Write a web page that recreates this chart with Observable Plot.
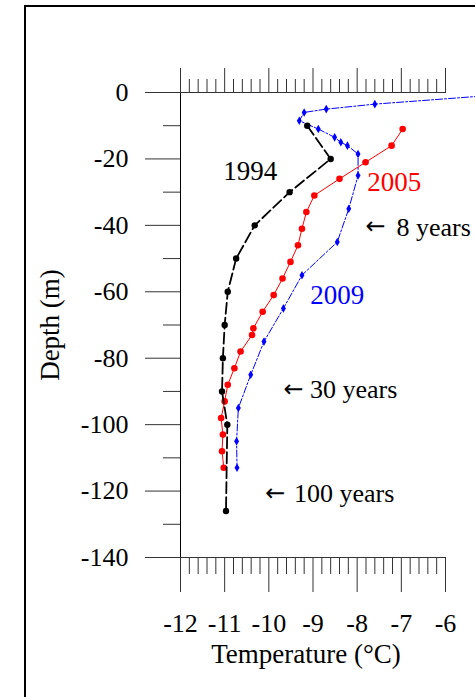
<!DOCTYPE html>
<html><head><meta charset="utf-8">
<script src="https://cdn.jsdelivr.net/npm/d3@7"></script>
<script src="https://cdn.jsdelivr.net/npm/@observablehq/plot@0.6"></script>
<style>
body{margin:0;background:#fff;}
#wrap{position:relative;width:475px;height:697px;overflow:hidden;background:#fff;}
#wrap svg{display:block;position:absolute;left:0;top:0;font-family:'Liberation Serif',serif;}
#wrap svg text{font-family:'Liberation Serif',serif;font-variant:normal;}
#wrap svg g.arrowglyph text{font-family:'DejaVu Sans',sans-serif;}
#border{position:absolute;left:24px;top:5px;width:600px;height:800px;border-left:2px solid #000;border-top:2px solid #000;z-index:2;pointer-events:none;}
</style></head><body><div id="wrap"></div>
<script>
// ---- data ----
const depth1994 = [-10,-20,-30,-40,-50,-60,-70,-80,-90,-100,-126];
const temp1994  = [-9.13,-8.6,-9.53,-10.32,-10.74,-10.93,-11.0,-11.04,-11.06,-10.94,-10.97];
const depth2005 = [-11,-16,-21,-26,-31,-36,-41,-46,-51,-56,-61,-66,-71,-73,-78,-83,-88,-93,-98,-103,-108,-113];
const temp2005  = [-6.97,-7.22,-7.81,-8.4,-8.97,-9.15,-9.25,-9.34,-9.51,-9.69,-9.89,-10.14,-10.35,-10.38,-10.64,-10.78,-10.93,-11.0,-11.08,-11.04,-11.06,-11.02];
const depth2009 = [-0.5,-3.5,-5,-6,-8.5,-11,-13.5,-15,-16,-18.5,-25,-35,-45,-55,-65,-75,-85,-95,-105,-113];
const temp2009  = [-4.6,-7.6,-8.7,-9.2,-9.31,-8.88,-8.51,-8.37,-8.22,-7.98,-7.98,-8.19,-8.45,-9.25,-9.67,-10.11,-10.41,-10.69,-10.73,-10.72];

const xTicks = [-12,-11,-10,-9,-8,-7,-6];
const yTicks = [0,-20,-40,-60,-80,-100,-120,-140];
const yMinorTicks = [-10,-30,-50,-70,-90,-110,-130];

const seriesNames = ["1994","2005","2009"];
const nameTemp   = [-11.03,-7.77,-9.06];
const nameDepth  = [-23.7,-27.0,-61.0];
const annotText  = ["8 years","30 years","100 years"];
const annotTemp  = [-7.11,-9.07,-9.43];
const annotDepth = [-40.6,-89.6,-120.9];
const arrowTemp  = [-7.81,-9.67,-10.08];

// ---- build tables ----
const zip = (t, d) => t.map((v, i) => ({t: v, d: d[i]}));
const s1994 = zip(temp1994, depth1994);
const s2005 = zip(temp2005, depth2005);
const s2009 = zip(temp2009, depth2009);
const names = seriesNames.map((n, i) => ({text: n, t: nameTemp[i], d: nameDepth[i]}));
const annots = annotText.map((n, i) => ({text: n, t: annotTemp[i], d: annotDepth[i]}));
const arrows = arrowTemp.map((v, i) => ({text: "←", t: v, d: annotDepth[i]}));
const xMinor = d3.range(0, 31).map(i => -12 + i * 0.2).filter((v, i) => i % 5 !== 0);

const serif = "Liberation Serif";
const tickCol = "#333";
const fmt = d => String(d);

const chart = Plot.plot({
  width: 475, height: 697,
  marginLeft: 180, marginRight: 30, marginTop: 92, marginBottom: 140,
  x: {domain: [-12, -6]},
  y: {domain: [-140, 0]},
  style: {fontSize: "26px", background: "transparent", color: "#000"},
  marks: [
    Plot.axisX({anchor: "top", ticks: xMinor, tickSize: 14, tickFormat: () => "", label: null, stroke: tickCol}),
    Plot.axisX({anchor: "top", ticks: xTicks, tickSize: 25, tickFormat: () => "", label: null, stroke: tickCol}),
    Plot.axisX({anchor: "bottom", ticks: xMinor, tickSize: 17, tickFormat: () => "", label: null, stroke: tickCol}),
    Plot.axisX({anchor: "bottom", ticks: xTicks, tickSize: 35, tickPadding: 21, tickFormat: fmt, label: null, stroke: tickCol, fill: "#000", fontSize: 26, fontFamily: serif, fontVariant: "normal"}),
    Plot.axisY({anchor: "left", ticks: yMinorTicks, tickSize: 17, tickFormat: () => "", label: null, stroke: tickCol}),
    Plot.axisY({anchor: "left", ticks: yTicks, tickSize: 35, tickPadding: 17, tickFormat: fmt, label: null, stroke: tickCol, fill: "#000", fontSize: 26, fontFamily: serif, fontVariant: "normal"}),
    Plot.ruleX([-12], {stroke: "#000", strokeWidth: 1}),
    Plot.ruleY([0, -140], {stroke: tickCol, strokeWidth: 1}),

    Plot.line(s2009, {x: "t", y: "d", stroke: "#0000ff", strokeWidth: 1, strokeDasharray: "7,2,2,2"}),
    Plot.dot(s2009, {x: "t", y: "d", fill: "#0000ff", symbol: "diamond", r: 2.6}),
    Plot.line(s2005, {x: "t", y: "d", stroke: "#ff0000", strokeWidth: 1}),
    Plot.dot(s2005, {x: "t", y: "d", fill: "#ff0000", r: 3.3}),
    Plot.line(s1994, {x: "t", y: "d", stroke: "#000", strokeWidth: 1.8, strokeDasharray: "11,4"}),
    Plot.dot(s1994, {x: "t", y: "d", fill: "#000", r: 3.2}),

    Plot.text(names.filter(d => d.text === "1994"), {x: "t", y: "d", text: "text", fill: "#000", textAnchor: "start", lineAnchor: "middle", fontSize: 27, fontFamily: serif}),
    Plot.text(names.filter(d => d.text === "2005"), {x: "t", y: "d", text: "text", fill: "#ff0000", textAnchor: "start", lineAnchor: "middle", fontSize: 27, fontFamily: serif}),
    Plot.text(names.filter(d => d.text === "2009"), {x: "t", y: "d", text: "text", fill: "#0000ff", textAnchor: "start", lineAnchor: "middle", fontSize: 27, fontFamily: serif}),
    Plot.text(annots, {x: "t", y: "d", text: "text", fill: "#000", textAnchor: "start", lineAnchor: "middle", fontSize: 26, fontFamily: serif}),
    Plot.text(arrows, {x: "t", y: "d", text: "text", fill: "#000", textAnchor: "start", lineAnchor: "middle", fontSize: 24, fontFamily: "DejaVu Sans", className: "arrowglyph", dy: -1}),

    Plot.text(["Depth (m)"], {frameAnchor: "left", rotate: -90, dx: -130, textAnchor: "middle", lineAnchor: "middle", fontSize: 27, fill: "#000", fontFamily: serif}),
    Plot.text(["Temperature (°C)"], {frameAnchor: "bottom", dx: -7, dy: 97, textAnchor: "middle", lineAnchor: "middle", fontSize: 27, fill: "#000", fontFamily: serif})
  ]
});
const wrap = document.getElementById("wrap");
wrap.appendChild(chart);
const border = document.createElement("div");
border.id = "border";
wrap.appendChild(border);
</script>
</body></html>
